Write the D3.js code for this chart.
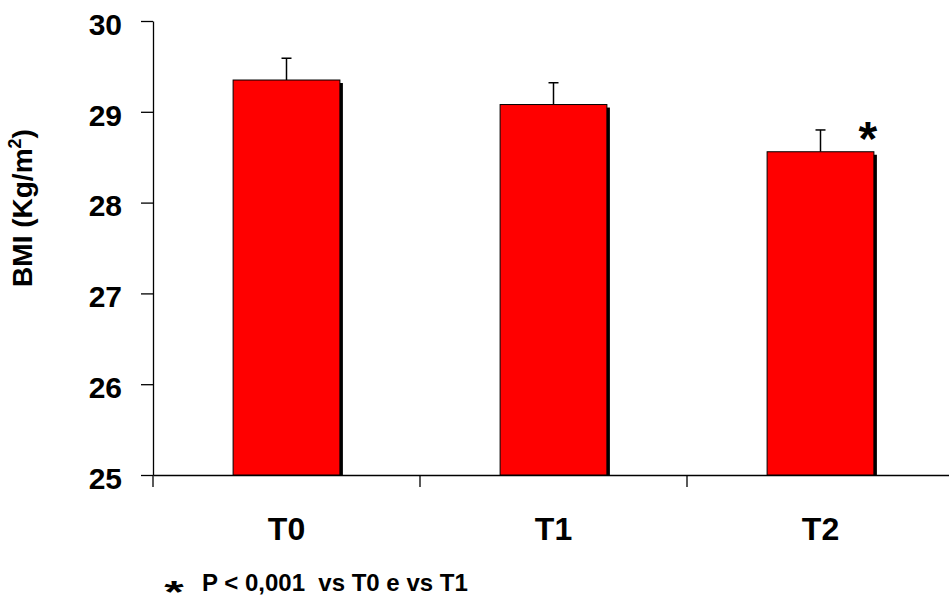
<!DOCTYPE html>
<html>
<head>
<meta charset="utf-8">
<script src="https://cdn.jsdelivr.net/npm/d3@7"></script>
<style>
  body { margin: 0; background: #fff; }
  svg { display: block; font-family: "Liberation Sans", Arial, sans-serif; font-weight: bold; }
</style>
</head>
<body>
<div id="chart"></div>
<script>
// Data
var categories = ["T0", "T1", "T2"];
var bmiMeans = [29.35, 29.08, 28.56];
var bmiErrors = [0.24, 0.24, 0.24];
var yTicks = [25, 26, 27, 28, 29, 30];
var marked = ["T2"];   // significant vs T0 and T1

function init() {
    var w = 949, h = 597;
    var left = 153, top = 21, bottom = 475;

    var svg = d3.select("#chart")
                .append("svg")
                .attr("width", w)
                .attr("height", h);

    var x = d3.scaleBand()
              .domain(categories)
              .range([left, left + 801])
              .paddingInner(0.6)
              .paddingOuter(0.3);

    var y = d3.scaleLinear()
              .domain([25, 30])
              .range([bottom, top]);

    var data = categories.map(function(c, i) {
        return { cat: c, mean: bmiMeans[i], err: bmiErrors[i] };
    });

    // y axis
    var yAxis = svg.append("g")
                   .attr("transform", "translate(" + left + ",0)")
                   .call(d3.axisLeft(y).tickValues(yTicks).tickFormat(d3.format("d"))
                           .tickSize(12).tickSizeOuter(0).tickPadding(19));
    yAxis.selectAll("path, line").attr("stroke", "#000").attr("stroke-width", 1.3);
    yAxis.selectAll("text")
         .attr("font-size", 30)
         .attr("font-family", "Liberation Sans, Arial, sans-serif")
         .attr("font-weight", "bold")
         .attr("fill", "#000")
         .attr("dy", "0.44em");

    // x axis (labels at band centres, ticks at band boundaries)
    var xAxis = svg.append("g")
                   .attr("transform", "translate(0," + bottom + ")")
                   .call(d3.axisBottom(x).tickSize(0).tickSizeOuter(0).tickPadding(42));
    xAxis.select(".domain").attr("stroke", "#000").attr("stroke-width", 1.3);
    xAxis.selectAll("text")
         .attr("font-size", 32)
         .attr("font-family", "Liberation Sans, Arial, sans-serif")
         .attr("font-weight", "bold")
         .attr("fill", "#000");

    var bounds = categories.map(function(c) { return x(c) - x.step() * x.paddingOuter(); });
    bounds.push(bounds[bounds.length - 1] + x.step());
    svg.append("g").selectAll("line")
       .data(bounds)
       .enter()
       .append("line")
       .attr("x1", function(d) { return d; })
       .attr("x2", function(d) { return d; })
       .attr("y1", bottom)
       .attr("y2", bottom + 12)
       .attr("stroke", "#000")
       .attr("stroke-width", 1.3);

    // error bars (upper only)
    var eb = svg.append("g").selectAll("g")
                .data(data)
                .enter()
                .append("g");
    eb.append("line")
      .attr("x1", function(d) { return x(d.cat) + x.bandwidth() / 2; })
      .attr("x2", function(d) { return x(d.cat) + x.bandwidth() / 2; })
      .attr("y1", function(d) { return y(d.mean); })
      .attr("y2", function(d) { return y(d.mean + d.err); })
      .attr("stroke", "#000")
      .attr("stroke-width", 1.5);
    eb.append("line")
      .attr("x1", function(d) { return x(d.cat) + x.bandwidth() / 2 - 5; })
      .attr("x2", function(d) { return x(d.cat) + x.bandwidth() / 2 + 5; })
      .attr("y1", function(d) { return y(d.mean + d.err); })
      .attr("y2", function(d) { return y(d.mean + d.err); })
      .attr("stroke", "#000")
      .attr("stroke-width", 1.5);

    // bar shadows
    svg.append("g").selectAll("rect")
       .data(data)
       .enter()
       .append("rect")
       .attr("x", function(d) { return x(d.cat) + 3; })
       .attr("y", function(d) { return y(d.mean) + 3; })
       .attr("width", x.bandwidth())
       .attr("height", function(d) { return bottom - y(d.mean) - 3; })
       .attr("fill", "#000");

    // bars
    svg.append("g").selectAll("rect")
       .data(data)
       .enter()
       .append("rect")
       .attr("x", function(d) { return x(d.cat); })
       .attr("y", function(d) { return y(d.mean); })
       .attr("width", x.bandwidth())
       .attr("height", function(d) { return bottom - y(d.mean); })
       .attr("fill", "#ff0000")
       .attr("stroke", "#000")
       .attr("stroke-width", 1);

    // significance star
    svg.append("g").selectAll("text")
       .data(data.filter(function(d) { return marked.indexOf(d.cat) >= 0; }))
       .enter()
       .append("text")
       .attr("x", function(d) { return x(d.cat) + x.bandwidth() - 6; })
       .attr("y", function(d) { return y(d.mean + d.err) + 25; })
       .attr("text-anchor", "middle")
       .attr("font-size", 48)
       .text("*");

    // y axis title
    var yt = svg.append("text")
                .attr("transform", "translate(32,208) rotate(-90)")
                .attr("text-anchor", "middle")
                .attr("font-size", 28);
    yt.append("tspan").text("BMI (Kg/m");
    yt.append("tspan").attr("font-size", 18).attr("dy", -11).text("2");
    yt.append("tspan").attr("dy", 11).text(")");

    // footnote
    svg.append("text")
       .attr("transform", "translate(174,603) scale(1.25,0.8)")
       .attr("text-anchor", "middle")
       .attr("font-size", 40)
       .text("*");
    svg.append("text")
       .attr("x", 202)
       .attr("y", 591)
       .attr("font-size", 24)
       .attr("xml:space", "preserve")
       .text("P < 0,001  vs T0 e vs T1");
}

window.onload = init;
</script>
</body>
</html>
